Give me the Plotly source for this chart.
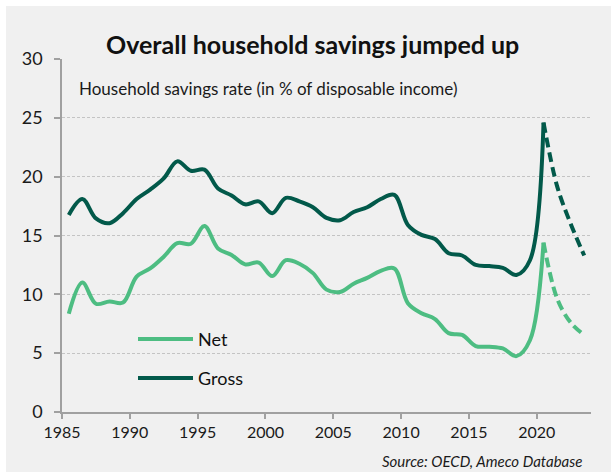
import plotly.graph_objects as go

# Household savings rate, % of disposable income (annual, plotted at mid-year)
years = list(range(1985, 2021))
gross = [16.75, 18.1, 16.45, 16.05, 16.9, 18.1, 18.9, 19.85, 21.3, 20.5,
         20.6, 19.0, 18.4, 17.65, 17.9, 16.9, 18.2, 17.9, 17.4, 16.5,
         16.3, 17.0, 17.4, 18.1, 18.45, 15.9, 15.05, 14.7, 13.5, 13.3,
         12.5, 12.4, 12.25, 11.65, 12.9, 24.6]
net = [8.35, 11.0, 9.2, 9.4, 9.3, 11.5, 12.2, 13.2, 14.35, 14.3,
       15.8, 13.9, 13.35, 12.55, 12.7, 11.55, 12.9, 12.6, 11.8, 10.4,
       10.2, 10.9, 11.4, 12.0, 12.2, 9.25, 8.4, 7.9, 6.7, 6.55,
       5.6, 5.55, 5.4, 4.75, 6.1, 14.4]

# Forecast years (start from the last actual year so the lines join)
fc_years = [2020, 2021, 2022, 2023]
gross_fc = [24.6, 19.2, 16.0, 13.3]
net_fc = [14.4, 9.65, 7.6, 6.55]

y_ticks = [0, 5, 10, 15, 20, 25, 30]
x_ticks = [1985, 1990, 1995, 2000, 2005, 2010, 2015, 2020]

NET_COLOR = "#4dbd82"
GROSS_COLOR = "#02594a"
FONT = "Lato"

W, H = 611, 472
L, R, T, B = 62, 20, 59, 60


def px(x):
    return (x - L) / (W - L - R)


def py(y):
    return (H - B - y) / (H - T - B)


def mid(ys):
    return [y + 0.5 for y in ys]


fig = go.Figure()
fig.add_trace(go.Scatter(x=mid(years), y=net, name="Net", mode="lines",
                         line=dict(color=NET_COLOR, width=4, shape="spline")))
fig.add_trace(go.Scatter(x=mid(years), y=gross, name="Gross", mode="lines",
                         line=dict(color=GROSS_COLOR, width=4, shape="spline")))
fig.add_trace(go.Scatter(x=mid(fc_years), y=net_fc, name="Net (forecast)", mode="lines",
                         line=dict(color=NET_COLOR, width=4, shape="spline", dash="10px,5px")))
fig.add_trace(go.Scatter(x=mid(fc_years), y=gross_fc, name="Gross (forecast)", mode="lines",
                         line=dict(color=GROSS_COLOR, width=4, shape="spline", dash="10px,5px")))

shapes = [
    # grey panel behind the whole chart
    dict(type="rect", xref="paper", yref="paper", layer="below",
         x0=px(6), x1=px(W + 2), y0=py(H + 2), y1=py(6),
         fillcolor="#f0f0f0", line=dict(width=0)),
]
annotations = [
    dict(text="<b>Overall household savings jumped up</b>", xref="paper", yref="paper",
         x=px(312), y=py(44), xanchor="center", yanchor="middle", showarrow=False,
         font=dict(family=FONT, size=25, color="#111111")),
    dict(text="Household savings rate (in % of disposable income)", xref="paper", yref="paper",
         x=px(77), y=py(88), xanchor="left", yanchor="middle", showarrow=False,
         font=dict(family=FONT, size=17, color="#1a1a1a")),
    dict(text="<i>Source: OECD, Ameco Database</i>", xref="paper", yref="paper",
         x=px(584), y=py(461), xanchor="right", yanchor="middle", showarrow=False,
         font=dict(family=FONT, size=15, color="#1a1a1a")),
]

# legend keys
for label, color, ypix in [("Net", NET_COLOR, 339), ("Gross", GROSS_COLOR, 378)]:
    shapes.append(dict(type="line", xref="paper", yref="paper",
                       x0=px(138), x1=px(193), y0=py(ypix), y1=py(ypix),
                       line=dict(color=color, width=4)))
    annotations.append(dict(text=label, xref="paper", yref="paper",
                            x=px(196), y=py(ypix), xanchor="left", yanchor="middle",
                            showarrow=False, font=dict(family=FONT, size=18, color="#111111")))

fig.update_layout(
    width=W, height=H,
    margin=dict(l=L, r=R, t=T, b=B),
    paper_bgcolor="white",
    plot_bgcolor="#f0f0f0",
    showlegend=False,
    shapes=shapes,
    annotations=annotations,
    font=dict(family=FONT, size=16, color="#1a1a1a"),
    xaxis=dict(range=[1985, 2024], tickvals=x_ticks, ticks="outside", ticklen=5,
               tickcolor="#a0a0a0", tickwidth=1.5, showline=True, linecolor="#a0a0a0",
               linewidth=1.5, showgrid=False, zeroline=False,
               tickfont=dict(family=FONT, size=16, color="#1a1a1a")),
    yaxis=dict(range=[0, 30], tickvals=y_ticks, ticks="outside", ticklen=6,
               tickcolor="#a0a0a0", tickwidth=1.5, showline=True, linecolor="#a0a0a0",
               linewidth=1.5, showgrid=True, gridcolor="#c4c4c4", gridwidth=1,
               griddash="3px,2px", zeroline=False, ticklabelstandoff=8,
               tickfont=dict(family=FONT, size=18, color="#1a1a1a")),
)

fig.write_html("out.html")
